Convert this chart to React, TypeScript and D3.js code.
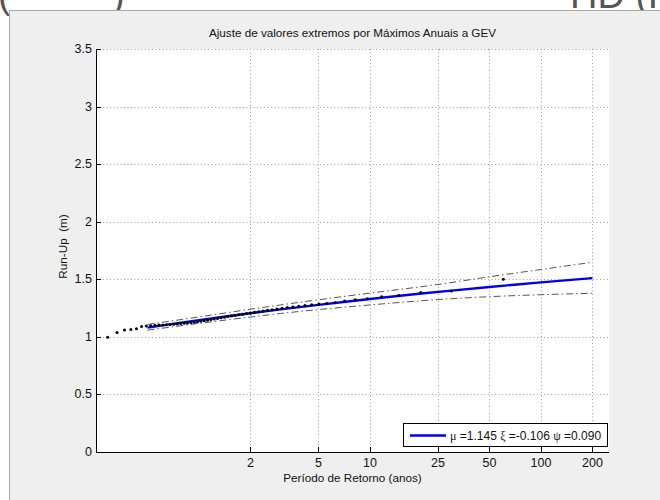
import React from "react";
import * as d3 from "d3";

// Empirical return periods (Weibull plotting positions, annual maxima) and observed run-up
const obsReturnPeriod = [
  0.2433, 0.2926, 0.332, 0.367, 0.3998, 0.4312, 0.4619, 0.4922, 0.5225, 0.553,
  0.5838, 0.615, 0.6468, 0.6794, 0.7129, 0.7472, 0.7827, 0.8193, 0.8573, 0.8967,
  0.9377, 0.9805, 1.0252, 1.072, 1.1211, 1.1726, 1.2268, 1.2842, 1.3448, 1.409,
  1.4773, 1.5499, 1.6276, 1.7109, 1.7999, 1.8961, 2.0, 2.1128, 2.2356, 2.3697,
  2.517, 2.6795, 2.8596, 3.0609, 3.2873, 3.5423, 3.8344, 4.1719, 4.5641, 5.0277,
  5.5835, 6.2617, 7.1124, 8.2034, 9.6525, 11.696, 14.749, 19.802, 29.94, 60.241,
];
const obsRunUp = [
  0.96, 0.996, 1.037, 1.06, 1.063, 1.071, 1.089, 1.095, 1.097, 1.1,
  1.103, 1.104, 1.106, 1.108, 1.11, 1.112, 1.115, 1.118, 1.12, 1.124,
  1.127, 1.131, 1.135, 1.14, 1.145, 1.15, 1.155, 1.16, 1.165, 1.17,
  1.176, 1.181, 1.186, 1.192, 1.197, 1.202, 1.208, 1.213, 1.218, 1.224,
  1.23, 1.236, 1.242, 1.248, 1.254, 1.26, 1.266, 1.272, 1.279, 1.285,
  1.29, 1.297, 1.312, 1.322, 1.33, 1.348, 1.36, 1.385, 1.398, 1.5,
];

// GEV fitted curve
const fitReturnPeriod = [0.5, 0.7, 1, 1.5, 2, 3, 5, 7, 10, 15, 20, 30, 50, 70, 100, 150, 200];
const fitRunUp = [1.0803, 1.1123, 1.145, 1.1807, 1.2051, 1.2383, 1.2782, 1.3033, 1.3289, 1.3569, 1.376, 1.402, 1.4332, 1.4528, 1.4729, 1.4948, 1.5098];

// Confidence bounds
const ciReturnPeriod = [0.5, 1, 2, 3, 5, 10, 25, 50, 100, 200];
const ciUpper = [1.108, 1.173, 1.24, 1.277, 1.322, 1.38, 1.455, 1.522, 1.585, 1.648];
const ciLower = [1.058, 1.117, 1.172, 1.203, 1.237, 1.277, 1.324, 1.349, 1.366, 1.379];

const xTicks = [2, 5, 10, 25, 50, 100, 200];
const yTicks = [0, 0.5, 1, 1.5, 2, 2.5, 3, 3.5];

const titleText = "Ajuste de valores extremos por Máximos Anuais a GEV";
const xLabel = "Período de Retorno (anos)";
const yLabel = "Run-Up  (m)";

export default function App() {
  const W = 660;
  const H = 500;
  const left = 96, right = 609, top = 49, bottom = 452;
  const x = d3.scaleLog().domain([0.25, 250]).range([left, right]);
  const y = d3.scaleLinear().domain([0, 3.5]).range([bottom, top]);
  const font = "'Liberation Sans', Arial, Helvetica, sans-serif";

  const line = d3
    .line<[number, number]>()
    .x((d) => x(d[0]))
    .y((d) => y(d[1]))
    .curve(d3.curveMonotoneX);

  const fitPath = line(fitReturnPeriod.map((t, i) => [t, fitRunUp[i]]) as [number, number][]) || "";
  const upPath = line(ciReturnPeriod.map((t, i) => [t, ciUpper[i]]) as [number, number][]) || "";
  const loPath = line(ciReturnPeriod.map((t, i) => [t, ciLower[i]]) as [number, number][]) || "";

  const legX = 403, legY = 423, legW = 204, legH = 23;

  return (
    <svg
      width={W}
      height={H}
      style={{ position: "absolute", left: 0, top: 0, background: "#ffffff" }}
      fontFamily={font}
    >
      <defs>
        <clipPath id="plotClip">
          <rect x={left} y={top} width={right - left} height={bottom - top} />
        </clipPath>
      </defs>
      {/* fragments of page text behind the figure */}
      <text x={-2} y={8} fontSize={38} fill="#555">(</text>
      <text x={112} y={8} fontSize={38} fill="#555">)</text>
      <text x={570} y={8} fontSize={38} fill="#555">HD (Fo</text>

      {/* figure panel */}
      <rect x={9.5} y={10.5} width={W} height={H} fill="#efefef" stroke="#a8a8a8" strokeWidth={1} />

      {/* axes background */}
      <rect x={left} y={top} width={right - left} height={bottom - top} fill="#ffffff" />

      {/* grid */}
      <g stroke="#a0a0a0" strokeWidth={1} strokeDasharray="1,2.5">
        {xTicks.map((t) => (
          <line key={"gx" + t} x1={Math.round(x(t)) + 0.5} x2={Math.round(x(t)) + 0.5} y1={top} y2={bottom} />
        ))}
        {yTicks.map((v) => (
          <line key={"gy" + v} x1={left} x2={right} y1={Math.round(y(v)) + 0.5} y2={Math.round(y(v)) + 0.5} />
        ))}
      </g>

      {/* data */}
      <g clipPath="url(#plotClip)">
        <path d={upPath} fill="none" stroke="#555" strokeWidth={1} strokeDasharray="7,3,1.5,3" />
        <path d={loPath} fill="none" stroke="#555" strokeWidth={1} strokeDasharray="7,3,1.5,3" />
        <path d={fitPath} fill="none" stroke="#0000ee" strokeWidth={2.4} />
        {obsReturnPeriod.map((t, i) => (
          <circle key={"p" + i} cx={x(t)} cy={y(obsRunUp[i])} r={1.5} fill="#000" />
        ))}
      </g>

      {/* axes lines */}
      <line x1={left + 0.5} x2={left + 0.5} y1={top} y2={bottom + 0.5} stroke="#000" />
      <line x1={left} x2={right} y1={bottom + 0.5} y2={bottom + 0.5} stroke="#000" />

      {/* ticks */}
      <g stroke="#000" strokeWidth={1}>
        {xTicks.map((t) => (
          <line key={"tx" + t} x1={Math.round(x(t)) + 0.5} x2={Math.round(x(t)) + 0.5} y1={bottom} y2={bottom - 5} />
        ))}
        {yTicks.map((v) => (
          <line key={"ty" + v} x1={left} x2={left + 5} y1={Math.round(y(v)) + 0.5} y2={Math.round(y(v)) + 0.5} />
        ))}
      </g>

      {/* tick labels */}
      <g fontSize={12.5} fill="#111">
        {xTicks.map((t) => (
          <text key={"lx" + t} x={x(t)} y={bottom + 15} textAnchor="middle">
            {String(t)}
          </text>
        ))}
        {yTicks.map((v) => (
          <text key={"ly" + v} x={left - 4} y={y(v) + 4} textAnchor="end">
            {String(v)}
          </text>
        ))}
      </g>

      {/* title and labels */}
      <text x={(left + right) / 2} y={37} textAnchor="middle" fontSize={11.7} fill="#111">
        {titleText}
      </text>
      <text x={(left + right) / 2} y={482} textAnchor="middle" fontSize={11.7} fill="#111">
        {xLabel}
      </text>
      <text
        transform={`translate(67, ${(top + bottom) / 2 - 4}) rotate(-90)`}
        textAnchor="middle"
        fontSize={11.7}
        fill="#111"
        style={{ whiteSpace: "pre" }}
      >
        {yLabel}
      </text>

      {/* legend */}
      <rect x={legX + 0.5} y={legY + 0.5} width={legW} height={legH} fill="#fff" stroke="#000" strokeWidth={1} />
      <line x1={legX + 7} x2={legX + 43} y1={legY + 12.5} y2={legY + 12.5} stroke="#0000ee" strokeWidth={2.4} />
      <text x={legX + 47} y={legY + 17} fontSize={12} fill="#111" style={{ whiteSpace: "pre" }}>
        <tspan fontFamily="'Liberation Serif', serif">μ</tspan>
        <tspan>{" =1.145 "}</tspan>
        <tspan fontFamily="'Liberation Serif', serif">ξ</tspan>
        <tspan>{" =-0.106 "}</tspan>
        <tspan fontFamily="'Liberation Serif', serif">ψ</tspan>
        <tspan>{" =0.090"}</tspan>
      </text>
    </svg>
  );
}
